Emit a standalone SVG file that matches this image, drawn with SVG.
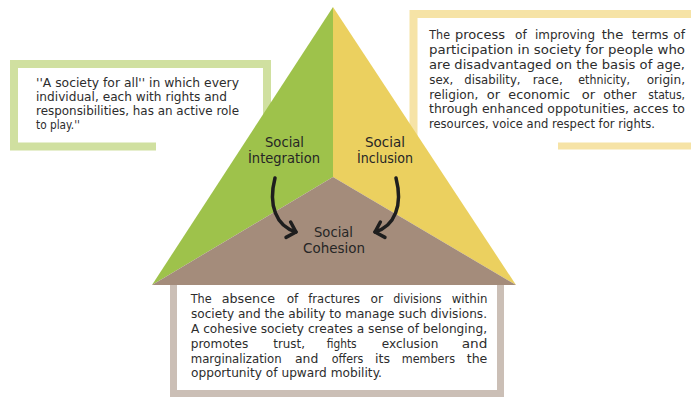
<svg xmlns="http://www.w3.org/2000/svg" width="691" height="398" viewBox="0 0 691 398">
<style>
  .t { font-family: "DejaVu Sans", "Liberation Sans", sans-serif; font-size: 12.6px; fill: #2d2d2d; }
  .lbl { font-family: "DejaVu Sans", "Liberation Sans", sans-serif; font-size: 14px; fill: #262626; text-anchor: middle; }
  .frame { fill: none; stroke-linejoin: miter; stroke-linecap: butt; }
  .conn { fill: none; stroke: #1e1e1e; stroke-width: 3.5; stroke-linecap: round; }
</style>
<defs>
  <marker id="vhead" markerUnits="userSpaceOnUse" markerWidth="22" markerHeight="22" refX="11" refY="11" orient="auto" viewBox="0 0 22 22">
    <path d="M3,3 L11,11 L3,19" fill="none" stroke="#1e1e1e" stroke-width="3.5" stroke-linecap="round" stroke-linejoin="round"/>
  </marker>
</defs>
<rect width="691" height="398" fill="#ffffff"/>

<g id="integration-box">
  <path class="frame" d="M156,146.5 H14 V64 H267 V140" stroke="#d0e0a0" stroke-width="8"/>
  <text class="t" x="36" y="87" textLength="203" lengthAdjust="spacingAndGlyphs">''A society for all'' in which every</text>
  <text class="t" x="36" y="101" textLength="191" lengthAdjust="spacingAndGlyphs">individual, each with rights and</text>
  <text class="t" x="36" y="115" textLength="203" lengthAdjust="spacingAndGlyphs">responsibilities, has an active role</text>
  <text class="t" x="36" y="129" textLength="44" lengthAdjust="spacingAndGlyphs">to play.''</text>
</g>

<g id="inclusion-box">
  <path class="frame" d="M691,14 H413.5 V140" stroke="#f6e3a6" stroke-width="8"/>
  <path class="frame" d="M558,146 H691" stroke="#f6e3a6" stroke-width="7"/>
  <text class="t" y="39.3"><tspan x="429.3" textLength="20.7" lengthAdjust="spacingAndGlyphs">The</tspan><tspan x="455" textLength="50" lengthAdjust="spacingAndGlyphs">process</tspan><tspan x="515" textLength="11.7" lengthAdjust="spacingAndGlyphs">of</tspan><tspan x="535" textLength="60" lengthAdjust="spacingAndGlyphs">improving</tspan><tspan x="601.7" textLength="21.7" lengthAdjust="spacingAndGlyphs">the</tspan><tspan x="631.7" textLength="36.7" lengthAdjust="spacingAndGlyphs">terms</tspan><tspan x="673.3" textLength="11.7" lengthAdjust="spacingAndGlyphs">of</tspan></text>
  <text class="t" x="429" y="54.1" textLength="256" lengthAdjust="spacingAndGlyphs">participation in society for people who</text>
  <text class="t" x="429" y="68.9" textLength="256" lengthAdjust="spacingAndGlyphs">are disadvantaged on the basis of age,</text>
  <text class="t" y="83.7"><tspan x="429.3" textLength="24" lengthAdjust="spacingAndGlyphs">sex,</tspan><tspan x="464.3" textLength="56.3" lengthAdjust="spacingAndGlyphs">disability,</tspan><tspan x="532.7" textLength="30" lengthAdjust="spacingAndGlyphs">race,</tspan><tspan x="578.3" textLength="51.7" lengthAdjust="spacingAndGlyphs">ethnicity,</tspan><tspan x="646.7" textLength="38.3" lengthAdjust="spacingAndGlyphs">origin,</tspan></text>
  <text class="t" y="98.5"><tspan x="429.3" textLength="49" lengthAdjust="spacingAndGlyphs">religion,</tspan><tspan x="486.7" textLength="13.3" lengthAdjust="spacingAndGlyphs">or</tspan><tspan x="508.3" textLength="61.7" lengthAdjust="spacingAndGlyphs">economic</tspan><tspan x="581.7" textLength="13.3" lengthAdjust="spacingAndGlyphs">or</tspan><tspan x="603.3" textLength="33.3" lengthAdjust="spacingAndGlyphs">other</tspan><tspan x="648.3" textLength="36.7" lengthAdjust="spacingAndGlyphs">status,</tspan></text>
  <text class="t" x="429" y="113.3" textLength="256" lengthAdjust="spacingAndGlyphs">through enhanced oppotunities, acces to</text>
  <text class="t" x="429" y="128.1" textLength="226" lengthAdjust="spacingAndGlyphs">resources, voice and respect for rights.</text>
</g>

<g id="cohesion-box">
  <path class="frame" d="M173.5,280 V393.5 H500.5 V280" stroke="#cbbfb6" stroke-width="7"/>
  <text class="t" y="303.3"><tspan x="190.7" textLength="21" lengthAdjust="spacingAndGlyphs">The</tspan><tspan x="221.7" textLength="53.3" lengthAdjust="spacingAndGlyphs">absence</tspan><tspan x="286.7" textLength="11.7" lengthAdjust="spacingAndGlyphs">of</tspan><tspan x="308.3" textLength="51.7" lengthAdjust="spacingAndGlyphs">fractures</tspan><tspan x="370.5" textLength="12.5" lengthAdjust="spacingAndGlyphs">or</tspan><tspan x="393.3" textLength="48.3" lengthAdjust="spacingAndGlyphs">divisions</tspan><tspan x="451.7" textLength="35.7" lengthAdjust="spacingAndGlyphs">within</tspan></text>
  <text class="t" x="191" y="318.1" textLength="296" lengthAdjust="spacingAndGlyphs">society and the ability to manage such divisions.</text>
  <text class="t" x="191" y="332.9" textLength="296" lengthAdjust="spacingAndGlyphs">A cohesive society creates a sense of belonging,</text>
  <text class="t" y="347.7"><tspan x="190.7" textLength="57.7" lengthAdjust="spacingAndGlyphs">promotes</tspan><tspan x="273.3" textLength="31.7" lengthAdjust="spacingAndGlyphs">trust,</tspan><tspan x="326.7" textLength="30" lengthAdjust="spacingAndGlyphs">fights</tspan><tspan x="381.7" textLength="56.7" lengthAdjust="spacingAndGlyphs">exclusion</tspan><tspan x="461.7" textLength="25.7" lengthAdjust="spacingAndGlyphs">and</tspan></text>
  <text class="t" y="362.5"><tspan x="190.7" textLength="91" lengthAdjust="spacingAndGlyphs">marginalization</tspan><tspan x="295" textLength="23.3" lengthAdjust="spacingAndGlyphs">and</tspan><tspan x="331.7" textLength="31.7" lengthAdjust="spacingAndGlyphs">offers</tspan><tspan x="375" textLength="15" lengthAdjust="spacingAndGlyphs">its</tspan><tspan x="401.7" textLength="53.3" lengthAdjust="spacingAndGlyphs">members</tspan><tspan x="466.7" textLength="20.7" lengthAdjust="spacingAndGlyphs">the</tspan></text>
  <text class="t" x="191" y="377.3" textLength="191" lengthAdjust="spacingAndGlyphs">opportunity of upward mobility.</text>
</g>

<g id="triangle">
  <polygon points="333,7 333,177 152,285" fill="#9ec24b"/>
  <polygon points="333,7 516,285 333,177" fill="#ebd05f"/>
  <polygon points="333,177 152,285 516,285" fill="#a48c7b"/>
</g>

<g id="node-integration">
  <text class="lbl" x="284.5" y="147" textLength="39" lengthAdjust="spacingAndGlyphs">Social</text>
  <text class="lbl" x="284" y="163" textLength="72" lengthAdjust="spacingAndGlyphs">İntegration</text>
</g>
<g id="node-inclusion">
  <text class="lbl" x="385" y="147" textLength="40" lengthAdjust="spacingAndGlyphs">Social</text>
  <text class="lbl" x="385" y="163" textLength="56" lengthAdjust="spacingAndGlyphs">İnclusion</text>
</g>
<g id="node-cohesion">
  <text class="lbl" x="333.5" y="237" textLength="39" lengthAdjust="spacingAndGlyphs">Social</text>
  <text class="lbl" x="334" y="253" textLength="62" lengthAdjust="spacingAndGlyphs">Cohesion</text>
</g>

<g id="connectors">
  <path class="conn" d="M275,178 C268,205 276,226 296,232" marker-end="url(#vhead)"/>
  <path class="conn" d="M396,178 C403,205 395,226 375,232" marker-end="url(#vhead)"/>
</g>
</svg>
